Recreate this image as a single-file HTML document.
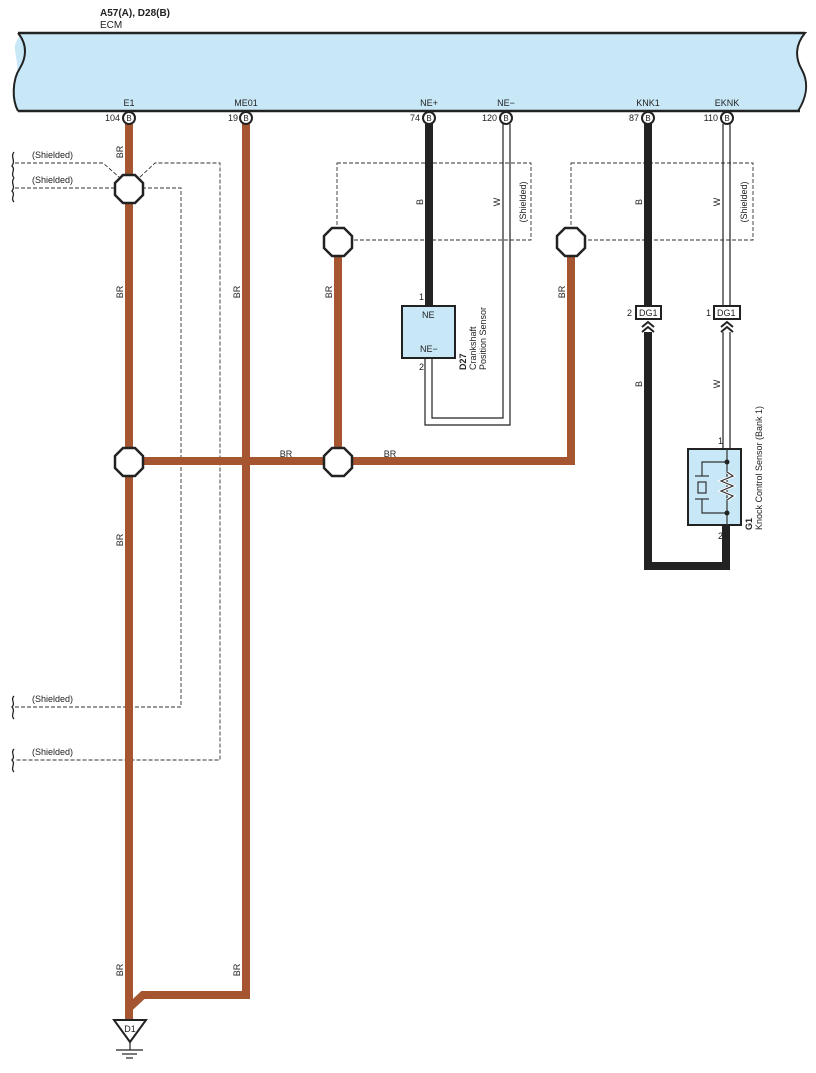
<!DOCTYPE html>
<html><head><meta charset="utf-8"><style>
html,body{margin:0;padding:0;background:#fff;}
svg{display:block;font-family:"Liberation Sans",sans-serif;}
</style></head><body>
<svg width="816" height="1073" viewBox="0 0 816 1073" xmlns="http://www.w3.org/2000/svg">
<text x="100" y="16" font-size="10" font-weight="bold" fill="#222">A57(A), D28(B)</text>
<text x="100" y="28" font-size="10" fill="#222">ECM</text>
<!-- ECM -->
<path d="M18,33 L805,33 C795,45 795,58 802,70 C810,85 805,100 798,111 L18,111 C10,100 12,88 16,78 C20,65 14,55 15,45 C16,40 22,36 18,33 Z" fill="#c8e8f8" stroke="none"/>
<path d="M18,33 L805,33 C795,45 795,58 802,70 C810,85 805,100 798,111" fill="none" stroke="#222" stroke-width="2"/>
<line x1="18" y1="33" x2="805" y2="33" stroke="#222" stroke-width="2.5"/>
<line x1="18" y1="111" x2="800" y2="111" stroke="#222" stroke-width="2.5"/>
<path d="M18,33 C28,45 26,58 20,68 C12,80 12,100 18,111" fill="none" stroke="#222" stroke-width="2"/>
<g font-size="9" fill="#222" text-anchor="middle">
<text x="129" y="106">E1</text><text x="246" y="106">ME01</text><text x="429" y="106">NE+</text><text x="506" y="106">NE−</text><text x="648" y="106">KNK1</text><text x="727" y="106">EKNK</text>
</g>
<g font-size="9" fill="#222" text-anchor="end">
<text x="120" y="121">104</text><text x="238" y="121">19</text><text x="420" y="121">74</text><text x="497" y="121">120</text><text x="639" y="121">87</text><text x="718" y="121">110</text>
</g>
<!-- shields -->
<g fill="none" stroke="#333" stroke-width="0.9" stroke-dasharray="4,2">
<path d="M15,163 L103,163 L119,177"/>
<path d="M15,188 L116,188"/>
<path d="M140,177 L155,163 L220,163 L220,760 L15,760"/>
<path d="M142,188 L181,188 L181,707 L15,707"/>
<rect x="337" y="163" width="194" height="77"/>
<rect x="571" y="163" width="182" height="77"/>
</g>
<g font-size="9" fill="#222">
<text x="32" y="158">(Shielded)</text><text x="32" y="183">(Shielded)</text>
<text x="32" y="702">(Shielded)</text><text x="32" y="755">(Shielded)</text>
</g>
<g fill="none" stroke="#222" stroke-width="1.3">
<path d="M14,152 C10,157 16,160 12,166 C16,170 10,173 14,178"/>
<path d="M14,178 C10,183 16,186 12,191 C16,195 10,198 14,202"/>
<path d="M14,696 C10,700 16,703 12,707 C16,711 10,715 14,719"/>
<path d="M14,749 C10,753 16,756 12,760 C16,764 10,768 14,772"/>
</g>
<!-- brown wires -->
<g stroke="#a5552f" stroke-width="8" fill="none">
<line x1="129" y1="124" x2="129" y2="1020"/>
<path d="M246,124 L246,995 L143,995 L129,1008"/>
<path d="M129,461 L571,461 L571,240"/>
<line x1="338" y1="240" x2="338" y2="461"/>
</g>
<!-- black wires -->
<g stroke="#222" stroke-width="8" fill="none">
<line x1="429" y1="124" x2="429" y2="306"/>
<line x1="648" y1="124" x2="648" y2="309"/>
<path d="M648,332 L648,566 L726,566 L726,525"/>
</g>
<!-- white wires -->
<g stroke="#222" stroke-width="1.2" fill="none">
<path d="M503,124 L503,418 L432,418 L432,358"/>
<path d="M510,124 L510,425 L425,425 L425,358"/>
<path d="M723,124 L723,309"/><path d="M730,124 L730,309"/>
<path d="M723,332 L723,449"/><path d="M730,332 L730,449"/>
</g>
<!-- pin circles -->
<g fill="#fff" stroke="#222" stroke-width="2">
<circle cx="129" cy="118" r="6"/><circle cx="246" cy="118" r="6"/><circle cx="429" cy="118" r="6"/><circle cx="506" cy="118" r="6"/><circle cx="648" cy="118" r="6"/><circle cx="727" cy="118" r="6"/>
</g>
<g font-size="8" fill="#222" text-anchor="middle">
<text x="129" y="121">B</text><text x="246" y="121">B</text><text x="429" y="121">B</text><text x="506" y="121">B</text><text x="648" y="121">B</text><text x="727" y="121">B</text>
</g>
<!-- octagons -->
<g fill="#fff" stroke="#222" stroke-width="2.5">
<polygon points="123,175 135,175 143,183 143,195 135,203 123,203 115,195 115,183"/>
<polygon points="123,448 135,448 143,456 143,468 135,476 123,476 115,468 115,456"/>
<polygon points="332,448 344,448 352,456 352,468 344,476 332,476 324,468 324,456"/>
<polygon points="332,228 344,228 352,236 352,248 344,256 332,256 324,248 324,236"/>
<polygon points="565,228 577,228 585,236 585,248 577,256 565,256 557,248 557,236"/>
</g>
<!-- labels rotated -->
<g font-size="9" fill="#222" text-anchor="middle">
<text transform="translate(123,152) rotate(-90)">BR</text>
<text transform="translate(123,292) rotate(-90)">BR</text>
<text transform="translate(240,292) rotate(-90)">BR</text>
<text transform="translate(332,292) rotate(-90)">BR</text>
<text transform="translate(565,292) rotate(-90)">BR</text>
<text transform="translate(123,540) rotate(-90)">BR</text>
<text transform="translate(123,970) rotate(-90)">BR</text>
<text transform="translate(240,970) rotate(-90)">BR</text>
<text transform="translate(423,202) rotate(-90)">B</text>
<text transform="translate(500,202) rotate(-90)">W</text>
<text transform="translate(526,202) rotate(-90)">(Shielded)</text>
<text transform="translate(642,202) rotate(-90)">B</text>
<text transform="translate(720,202) rotate(-90)">W</text>
<text transform="translate(747,202) rotate(-90)">(Shielded)</text>
<text transform="translate(642,384) rotate(-90)">B</text>
<text transform="translate(720,384) rotate(-90)">W</text>
<text x="286" y="457">BR</text><text x="390" y="457">BR</text>
</g>
<!-- NE sensor -->
<rect x="402" y="306" width="53" height="52" fill="#c8e8f8" stroke="#222" stroke-width="2"/>
<g font-size="9" fill="#222">
<text x="422" y="318">NE</text><text x="420" y="352">NE−</text>
<text x="419" y="300">1</text><text x="419" y="370">2</text>
<text transform="translate(466,370) rotate(-90)" font-weight="bold">D27</text>
<text transform="translate(476,370) rotate(-90)">Crankshaft</text>
<text transform="translate(486,370) rotate(-90)">Position Sensor</text>
</g>
<!-- DG1 -->
<g fill="#fff" stroke="#222" stroke-width="2">
<rect x="636" y="306" width="25" height="13"/><rect x="714" y="306" width="26" height="13"/>
</g>
<g font-size="9" fill="#222">
<text x="639" y="316">DG1</text><text x="717" y="316">DG1</text>
<text x="627" y="316">2</text><text x="706" y="316">1</text>
</g>
<g fill="none" stroke="#222" stroke-width="2">
<path d="M642,327 L648,322 L654,327"/><path d="M642,332 L648,327 L654,332"/>
<path d="M721,327 L727,322 L733,327"/><path d="M721,332 L727,327 L733,332"/>
</g>
<!-- Knock sensor -->
<rect x="688" y="449" width="53" height="76" fill="#c8e8f8" stroke="#222" stroke-width="2"/>
<g fill="none" stroke="#333" stroke-width="1.2">
<path d="M727,449 L727,525"/>
<path d="M727,462 L702,462 L702,476"/><path d="M727,513 L702,513 L702,499"/>
<line x1="695" y1="476" x2="709" y2="476"/><line x1="695" y1="499" x2="709" y2="499"/>
<rect x="698" y="482" width="8" height="11"/>
<path d="M727,472 L733,476 L721,481 L733,486 L721,491 L733,496 L727,500" stroke="#fff" stroke-width="3"/>
<path d="M727,472 L733,476 L721,481 L733,486 L721,491 L733,496 L727,500"/>
</g>
<circle cx="727" cy="462" r="2.5" fill="#222"/><circle cx="727" cy="513" r="2.5" fill="#222"/>
<g font-size="9" fill="#222">
<text x="718" y="444">1</text><text x="718" y="539">2</text>
<text transform="translate(752,530) rotate(-90)" font-weight="bold">G1</text>
<text transform="translate(762,530) rotate(-90)">Knock Control Sensor (Bank 1)</text>
</g>
<!-- ground -->
<polygon points="114,1020 146,1020 130,1042" fill="#fff" stroke="#222" stroke-width="2"/>
<text x="130" y="1032" font-size="9" fill="#222" text-anchor="middle">D1</text>
<g stroke="#222" stroke-width="1.2">
<line x1="130" y1="1042" x2="130" y2="1050"/>
<line x1="116" y1="1050" x2="143" y2="1050"/>
<line x1="122" y1="1054" x2="137" y2="1054"/>
<line x1="126" y1="1058" x2="133" y2="1058"/>
</g>
</svg>
</body></html>
